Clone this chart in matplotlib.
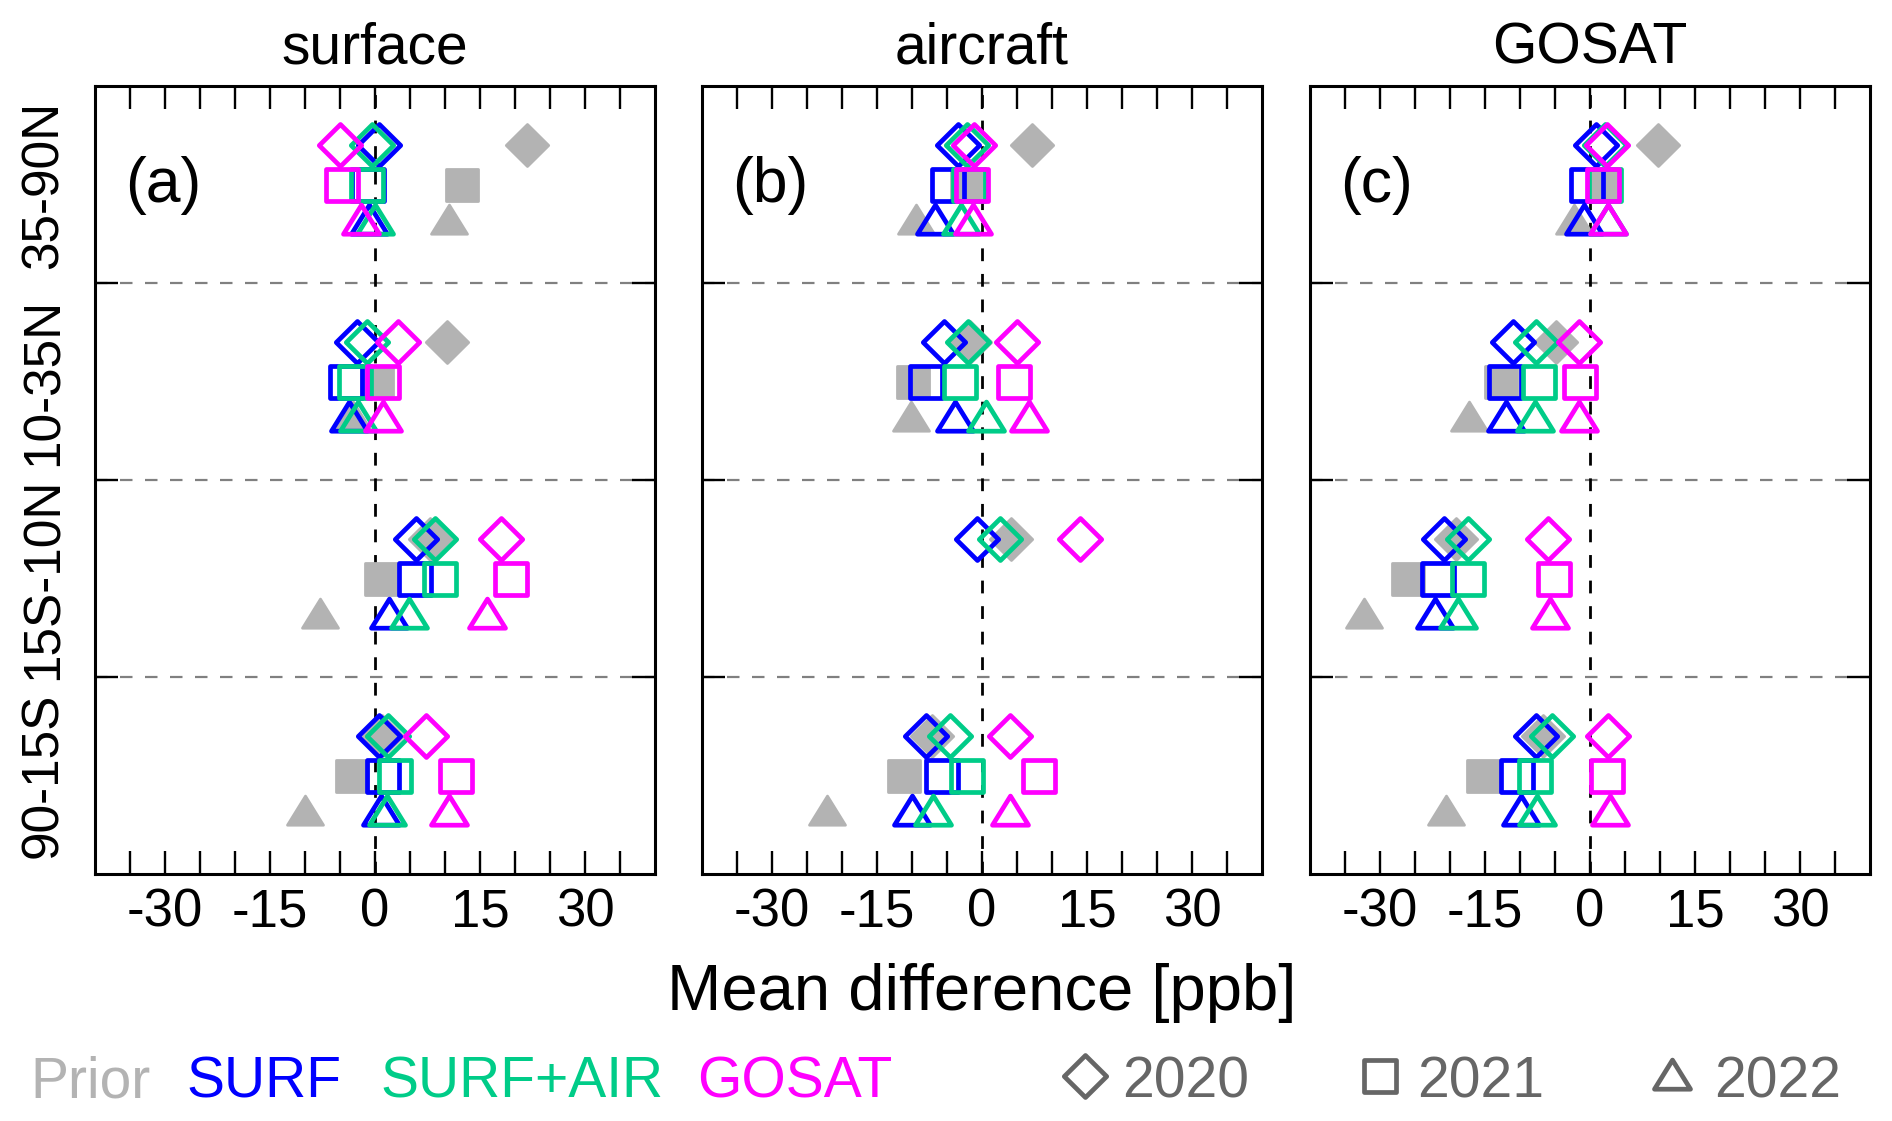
import numpy as np
import matplotlib
matplotlib.use("Agg")
import matplotlib.pyplot as plt
from matplotlib.path import Path
from matplotlib.lines import Line2D

nan = np.nan

regions = ["35-90N", "10-35N", "15S-10N", "90-15S"]
years = ["2020", "2021", "2022"]
panels = ["surface", "aircraft", "GOSAT"]
panel_tags = ["(a)", "(b)", "(c)"]
series = ["Prior", "SURF", "SURF+AIR", "GOSAT"]
xticks = [-30, -15, 0, 15, 30]

# mean difference [ppb]; rows = 2020, 2021, 2022, columns follow `regions`
surface_prior = [[21.7, 10.3, 7.8, 1.0], [12.4, 0.3, 0.8, -3.3], [10.5, -3.1, -7.8, -10.0]]
surface_surf = [[0.6, -2.6, 5.8, 0.6], [-1.0, -4.2, 5.7, 1.2], [-0.8, -3.7, 2.0, 0.8]]
surface_surfair = [[-0.4, -1.1, 8.5, 1.9], [-1.2, -2.8, 9.3, 2.8], [0.0, -2.4, 4.8, 1.7]]
surface_gosat = [[-5.0, 3.3, 18.0, 7.3], [-4.7, 1.2, 19.4, 11.5], [-2.0, 1.2, 16.0, 10.6]]

aircraft_prior = [[7.1, -1.7, 4.2, -7.2], [-2.2, -9.9, nan, -11.2], [-9.5, -10.2, nan, -22.2]]
aircraft_surf = [[-3.4, -5.5, -0.7, -8.0], [-4.8, -8.0, nan, -5.7], [-6.7, -3.9, nan, -10.0]]
aircraft_surfair = [[-2.1, -2.0, 2.6, -4.6], [-1.8, -3.2, nan, -2.2], [-3.0, 0.5, nan, -7.0]]
aircraft_gosat = [[-1.2, 5.0, 14.0, 4.0], [-1.5, 4.5, nan, 8.2], [-1.3, 6.7, nan, 4.0]]

gosat_prior = [[9.7, -4.8, -19.1, -6.7], [1.8, -12.7, -26.0, -15.3], [-2.3, -17.3, -32.3, -20.6]]
gosat_surf = [[0.8, -11.0, -20.9, -7.7], [-0.5, -12.1, -21.7, -10.4], [-0.9, -12.0, -22.1, -9.8]]
gosat_surfair = [[2.2, -7.7, -17.4, -5.4], [2.1, -7.3, -17.4, -7.8], [2.5, -7.9, -18.8, -7.6]]
gosat_gosat = [[2.4, -1.6, -6.0, 2.5], [1.9, -1.5, -5.1, 2.4], [2.6, -1.6, -5.7, 2.8]]

panel_data = [
    [surface_prior, surface_surf, surface_surfair, surface_gosat],
    [aircraft_prior, aircraft_surf, aircraft_surfair, aircraft_gosat],
    [gosat_prior, gosat_surf, gosat_surfair, gosat_gosat],
]

colors = ["#b3b3b3", "#0000ff", "#00cc88", "#ff00ff"]
year_color = "#666666"

DPI = 100
plt.rcParams["font.family"] = ["Liberation Sans", "DejaVu Sans"]
plt.rcParams["lines.scale_dashes"] = False


def make_marker(verts):
    # verts in pixels; returns a path marker and its markersize in points
    v = np.asarray(verts, float)
    r = np.abs(v).max()
    path = Path(np.vstack([v, v[:1]]), closed=True)
    return path, 2 * r * 72 / DPI


diamond = make_marker([(0, 21.0), (21.2, 0), (0, -21.0), (-21.2, 0)])
square = make_marker([(-15.7, -15.7), (15.7, -15.7), (15.7, 15.7), (-15.7, 15.7)])
triangle = make_marker([(0, 19.4), (-18.0, -9.7), (18.0, -9.7)])
shapes = [diamond, square, triangle]
row_offset = [0.2, 0.0, -0.2]
edge_w = 3.4

fig = plt.figure(figsize=(18.92, 11.21), dpi=DPI)
W, H = 1892.0, 1121.0
ax_left = [95, 702, 1310]

centers = 3.5 - np.arange(len(regions))

for p, name in enumerate(panels):
    ax = fig.add_axes([ax_left[p] / W, 247 / H, 560 / W, 788 / H])
    ax.set_xlim(-40, 40)
    ax.set_ylim(0, 4)

    for yb in [1, 2, 3]:
        ax.axhline(yb, color="#808080", lw=1.6, dashes=(9.0, 9.0), zorder=1)
    ax.axvline(0, color="k", lw=2.0, dashes=(9.2, 9.2), zorder=1)

    for s in range(len(series)):
        vals = panel_data[p][s]
        for k in range(len(years)):
            path, ms = shapes[k]
            if s == 0:
                ax.plot(vals[k], centers + row_offset[k], ls="none", marker=path, ms=ms,
                        mfc=colors[s], mec=colors[s], mew=2.0, zorder=2)
            else:
                ax.plot(vals[k], centers + row_offset[k], ls="none", marker=path, ms=ms,
                        mfc="none", mec=colors[s], mew=edge_w, zorder=3 + s)

    ax.set_xticks(xticks)
    ax.set_xticklabels([str(t) for t in xticks])
    ax.set_xticks(np.arange(-35, 40, 5), minor=True)
    ax.set_yticks(centers)
    ax.set_yticklabels(regions, rotation=90, va="center")
    ax.set_yticks([1, 2, 3], minor=True)
    ax.tick_params(which="both", direction="in", top=True, right=True,
                   length=16.5, width=1.7)
    ax.tick_params(axis="x", labelsize=38, pad=10)
    ax.tick_params(axis="y", which="major", length=0, labelsize=37, pad=19)
    if p > 0:
        ax.tick_params(axis="y", labelleft=False)
    for sp in ax.spines.values():
        sp.set_linewidth(2.2)

    ax.text(0.5, 1.029, name, transform=ax.transAxes, ha="center", va="baseline", fontsize=41)
    ax.text(0.054, 0.853, panel_tags[p], transform=ax.transAxes, ha="left", va="baseline", fontsize=45)

fig.text(982 / W, 0.099, "Mean difference [ppb]", ha="center", va="baseline", fontsize=47)

# legend row
label_x = [30, 186, 380, 697]
for s in range(len(series)):
    fig.text(label_x[s] / W, 0.0214, series[s], color=colors[s], ha="left", va="baseline", fontsize=41)

sym_x = [1085, 1380, 1672]
sym_y = [45, 45, 42]
text_x = [1122, 1417, 1714]
for k in range(len(years)):
    path, ms = shapes[k]
    fig.add_artist(Line2D([sym_x[k] / W], [sym_y[k] / H], transform=fig.transFigure, ls="none",
                          marker=path, ms=ms, mfc="none", mec=year_color, mew=edge_w))
    fig.text(text_x[k] / W, 0.0214, years[k], color=year_color, ha="left", va="baseline", fontsize=41)

fig.savefig("out.png", dpi=DPI)
